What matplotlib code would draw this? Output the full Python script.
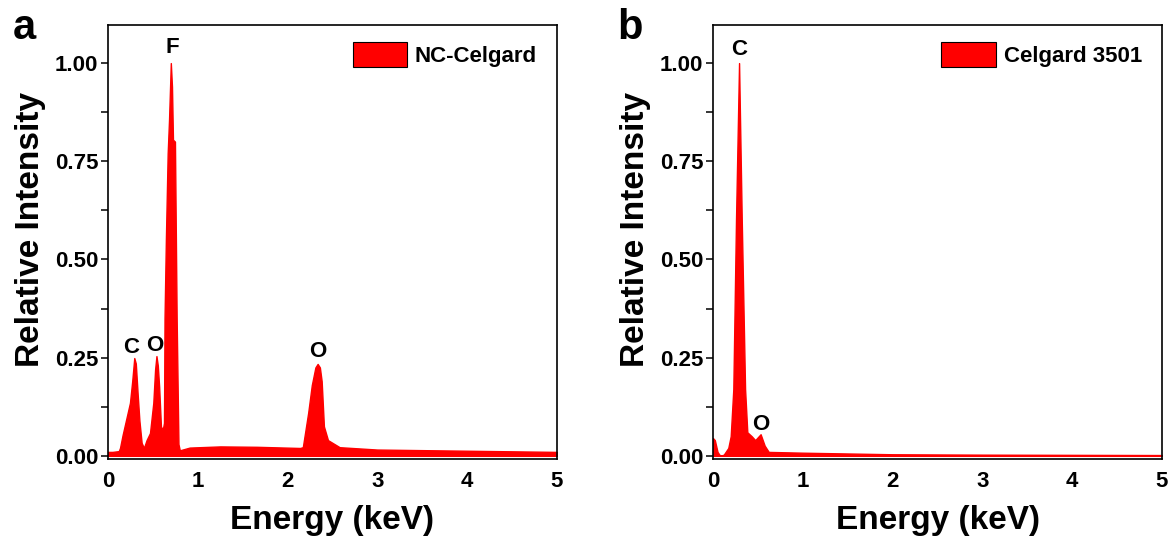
import matplotlib
matplotlib.use('Agg')
import matplotlib.pyplot as plt
from matplotlib.ticker import MultipleLocator

plt.rcParams['font.family'] = ['Liberation Sans', 'DejaVu Sans']
plt.rcParams['font.weight'] = 'bold'

# NC-Celgard spectrum (energy keV, relative intensity)
energy_nc = [0.0, 0.05, 0.12, 0.134, 0.163, 0.20, 0.245, 0.27, 0.293, 0.31, 0.33, 0.35, 0.375, 0.40,
             0.43, 0.468, 0.505, 0.525, 0.54, 0.555, 0.57, 0.59, 0.61, 0.624, 0.63, 0.645, 0.665, 0.68,
             0.70, 0.713, 0.724, 0.746, 0.765, 0.785, 0.80, 0.91, 1.25, 1.66, 2.14, 2.17,
             2.23, 2.27, 2.31, 2.335, 2.36, 2.38, 2.405, 2.45, 2.58, 3.0, 4.0, 5.0]
intensity_nc = [0.01, 0.01, 0.012, 0.02, 0.053, 0.09, 0.135, 0.19, 0.249, 0.235, 0.16, 0.09, 0.033, 0.02,
                0.04, 0.058, 0.135, 0.22, 0.254, 0.23, 0.176, 0.075, 0.066, 0.084, 0.35, 0.55, 0.77, 0.855,
                1.0, 0.94, 0.805, 0.80, 0.35, 0.03, 0.014, 0.021, 0.024, 0.023, 0.02, 0.022,
                0.11, 0.18, 0.225, 0.234, 0.225, 0.19, 0.075, 0.04, 0.022, 0.016, 0.013, 0.01]

# Celgard 3501 spectrum
energy_cg = [0.0, 0.02, 0.05, 0.08, 0.12, 0.17, 0.197, 0.226, 0.256, 0.29, 0.32, 0.357,
             0.382, 0.43, 0.47, 0.53, 0.575, 0.62, 1.0, 2.0, 3.0, 5.0]
intensity_cg = [0.045, 0.04, 0.01, 0.0, 0.003, 0.02, 0.05, 0.17, 0.6, 1.0, 0.6, 0.17,
                0.06, 0.05, 0.04, 0.055, 0.026, 0.01, 0.008, 0.004, 0.003, 0.002]

peaks_nc = [('C', 0.256, 0.277), ('O', 0.52, 0.28), ('F', 0.72, 1.04), ('O', 2.34, 0.265)]
peaks_cg = [('C', 0.29, 1.035), ('O', 0.534, 0.081)]

yticks = [0.0, 0.25, 0.5, 0.75, 1.0]
xticks = [0, 1, 2, 3, 4, 5]

fig = plt.figure(figsize=(11.71, 5.36), dpi=100)
ax1 = fig.add_axes([0.0922, 0.1437, 0.3834, 0.8097])
ax2 = fig.add_axes([0.6089, 0.1437, 0.3834, 0.8097])

panels = [
    (ax1, energy_nc, intensity_nc, 'NC-Celgard', peaks_nc, 'a'),
    (ax2, energy_cg, intensity_cg, 'Celgard 3501', peaks_cg, 'b'),
]

for ax, e, inten, name, peaks, letter in panels:
    ax.fill_between(e, 0, inten, color='#ff0000', edgecolor='#ff0000', lw=1.0, label=name)
    ax.set_xlim(0, 5)
    ax.set_ylim(-0.008, 1.097)
    ax.set_xticks(xticks)
    ax.set_yticks(yticks)
    ax.set_yticklabels([f"{v:.2f}" for v in yticks])
    ax.yaxis.set_minor_locator(MultipleLocator(0.125))
    ax.tick_params(axis='y', which='both', direction='out', length=5, width=1.1,
                   labelsize=16, pad=2)
    ax.tick_params(axis='x', which='both', length=0, labelsize=16, pad=9)
    for s in ax.spines.values():
        s.set_linewidth(1.2)
    ax.set_xlabel('Energy (keV)', fontsize=24, fontweight='bold', labelpad=9)
    ax.set_ylabel('Relative Intensity', fontsize=24, fontweight='bold')
    ax.yaxis.set_label_coords(-0.138, 0.53)
    for lab, x, y in peaks:
        ax.text(x, y, lab, ha='center', va='center', fontsize=16, fontweight='bold')
    leg = ax.legend(loc='upper right', bbox_to_anchor=(0.99, 0.997), frameon=False,
                    fontsize=16, handlelength=2.45, handleheight=1.35,
                    handletextpad=0.35, borderaxespad=0.3)
    for h in leg.legend_handles:
        h.set_edgecolor('black')
        h.set_linewidth(0.8)
    pos = ax.get_position()
    fig.text(pos.x0 - 0.071, 0.947, letter, fontsize=30, fontweight='bold',
             ha='center', va='center')

fig.savefig('out.png', dpi=100)
